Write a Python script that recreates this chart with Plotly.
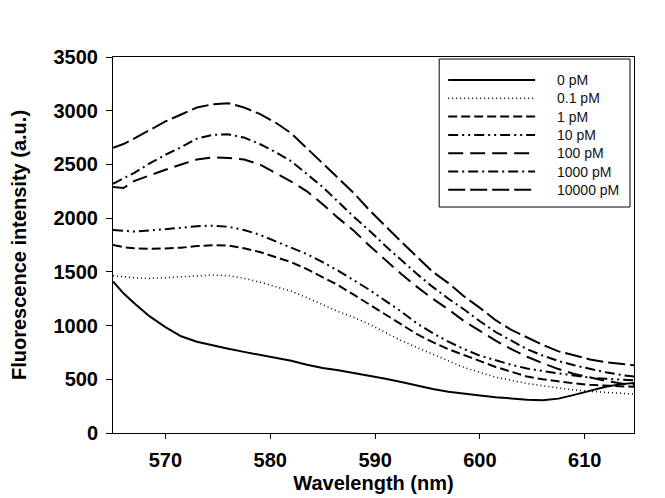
import plotly.graph_objects as go

# ---------------- data ----------------
wavelength = [565, 566, 567, 568.5, 570, 571.5, 573, 574.5, 576, 577.5, 579, 580.5, 582, 583.5,
              585, 586.5, 588, 589.5, 591, 592.5, 594, 595.5, 597, 598.5, 600, 601.5, 603, 604.5,
              606, 607.5, 609, 610.5, 612, 613.5, 614.7]

pm_0 = [1410, 1300, 1210, 1085, 985, 900, 850, 815, 785, 755, 727, 700, 672, 635,
        605, 585, 560, 530, 505, 475, 440, 410, 385, 365, 350, 333, 320, 310,
        305, 320, 355, 395, 430, 455, 465]
pm_0_1 = [1465, 1455, 1445, 1438, 1445, 1455, 1465, 1470, 1465, 1440, 1405, 1365, 1320, 1260,
          1195, 1130, 1075, 1010, 935, 860, 795, 735, 670, 610, 565, 520, 490, 460,
          440, 418, 400, 388, 378, 368, 362]
pm_1 = [1750, 1730, 1720, 1715, 1718, 1725, 1740, 1748, 1745, 1720, 1685, 1640, 1590, 1525,
        1450, 1375, 1285, 1195, 1105, 1010, 920, 845, 780, 725, 670, 615, 570, 525,
        500, 478, 462, 448, 440, 434, 430]
pm_10 = [1890, 1880, 1875, 1885, 1895, 1910, 1925, 1930, 1920, 1890, 1845, 1785, 1725, 1665,
         1590, 1510, 1420, 1330, 1230, 1130, 1020, 930, 850, 780, 720, 675, 635, 600,
         575, 555, 535, 515, 505, 495, 490]
pm_100 = [2290, 2280, 2345, 2400, 2450, 2500, 2545, 2565, 2560, 2545, 2500, 2420, 2340, 2250,
          2130, 2000, 1880, 1740, 1610, 1480, 1360, 1250, 1150, 1040, 950, 860, 780, 710,
          650, 595, 550, 515, 485, 460, 450]
pm_1000 = [2320, 2370, 2420, 2510, 2590, 2660, 2740, 2775, 2780, 2750, 2690, 2615, 2530, 2410,
           2290, 2150, 2010, 1880, 1740, 1610, 1480, 1360, 1250, 1150, 1040, 940, 860, 780,
           720, 670, 630, 595, 565, 540, 525]
pm_10000 = [2655, 2690, 2740, 2820, 2900, 2965, 3030, 3060, 3070, 3030, 2970, 2890, 2790, 2650,
            2510, 2370, 2230, 2070, 1920, 1780, 1640, 1500, 1395, 1270, 1165, 1050, 960, 890,
            820, 760, 720, 685, 660, 640, 630]

series_names = ["0 pM", "0.1 pM", "1 pM", "10 pM", "100 pM", "1000 pM", "10000 pM"]
series_values = [pm_0, pm_0_1, pm_1, pm_10, pm_100, pm_1000, pm_10000]

x_ticks = [570, 580, 590, 600, 610]
y_ticks = [0, 500, 1000, 1500, 2000, 2500, 3000, 3500]

# ---------------- styles ----------------
dashes = ["solid", "1px,3px", "9px,4px", "10px,4px,2px,4px,2px,4px", "15px,7px",
          "10px,4px,2px,4px", "17px,5px"]
widths = [2, 1.5, 2, 2, 2, 2, 2]

OFF = 8                       # page body margin of the browser
W, H = 665 - OFF, 498 - OFF   # figure size
# plot area in page pixels
L, R, T, B = 112.5, 634, 57, 433

fig = go.Figure()
for name, vals, d, w in zip(series_names, series_values, dashes, widths):
    fig.add_trace(go.Scatter(x=wavelength, y=vals, mode="lines", name=name,
                             line=dict(color="black", width=w, dash=d),
                             showlegend=False))

def px_x(px):
    return (px - L) / (R - L)

def px_y(py):
    return (B - py) / (B - T)

shapes = []
annotations = []
# legend box drawn like the reference
shapes.append(dict(type="rect", xref="paper", yref="paper",
                   x0=px_x(439), x1=px_x(630), y0=px_y(207), y1=px_y(59),
                   line=dict(color="black", width=1), fillcolor="white", layer="above"))
row_y = [80, 98.3, 116.6, 134.9, 153.2, 171.5, 189.8]
for name, d, w, ry in zip(series_names, dashes, widths, row_y):
    shapes.append(dict(type="line", xref="paper", yref="paper",
                       x0=px_x(448), x1=px_x(535), y0=px_y(ry), y1=px_y(ry),
                       line=dict(color="black", width=w, dash=d), layer="above"))
    annotations.append(dict(xref="paper", yref="paper", x=px_x(555), y=px_y(ry),
                            xanchor="left", yanchor="middle", text=name, showarrow=False,
                            font=dict(family="Liberation Sans, Arial", size=14, color="#111")))

tick_font = dict(family="Liberation Sans, Arial", size=20, color="black", weight="bold")
title_font = dict(family="Liberation Sans, Arial", size=20, color="black", weight="bold")

fig.update_layout(
    width=W, height=H,
    margin=dict(l=L - OFF, r=W - (R - OFF), t=T - OFF, b=H - (B - OFF), pad=0, autoexpand=False),
    paper_bgcolor="white", plot_bgcolor="white",
    shapes=shapes, annotations=annotations,
    showlegend=False,
    xaxis=dict(range=[565, 614.7], tickvals=x_ticks, ticks="outside", ticklen=5,
               tickcolor="black", showline=True, linecolor="black", linewidth=1,
               mirror=True, showgrid=False, zeroline=False, tickfont=tick_font,
               ticklabelstandoff=4, automargin=False,
               title=dict(text="Wavelength (nm)", font=title_font, standoff=5)),
    yaxis=dict(range=[0, 3500], tickvals=y_ticks, ticks="outside", ticklen=6,
               tickcolor="black", showline=True, linecolor="black", linewidth=1,
               mirror=True, showgrid=False, zeroline=False, tickfont=tick_font,
               ticklabelstandoff=4, automargin=False,
               title=dict(text="Fluorescence intensity (a.u.)", font=title_font, standoff=24)),
)

fig.write_html("out.html")
